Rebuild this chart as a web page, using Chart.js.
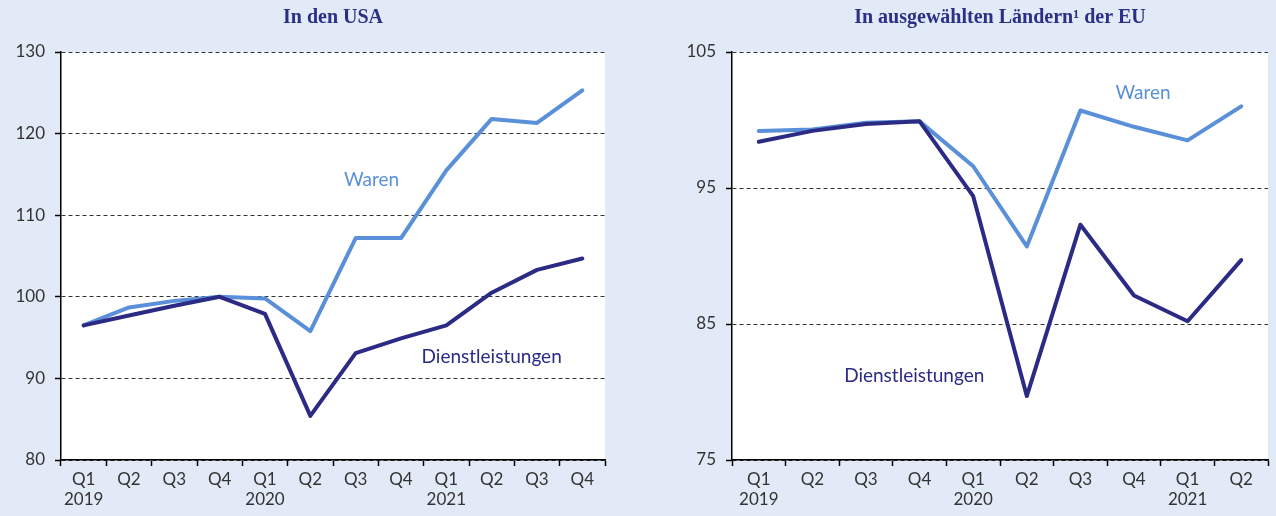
<!DOCTYPE html>
<html>
<head>
<meta charset="utf-8">
<script src="https://cdn.jsdelivr.net/npm/chart.js@4"></script>
<style>
  html, body { margin: 0; padding: 0; }
  body { width: 1276px; height: 516px; background: #e3eaf7; position: relative; overflow: hidden; }
  .box { position: absolute; top: 0; height: 516px; }
</style>
</head>
<body>
<div class="box" style="left:0;width:630px"><canvas id="chartUSA"></canvas></div>
<div class="box" style="left:640px;width:636px"><canvas id="chartEU"></canvas></div>
<script>
// Daten USA
var usa_labels = [["Q1", "2019"], "Q2", "Q3", "Q4", ["Q1", "2020"], "Q2", "Q3", "Q4", ["Q1", "2021"], "Q2", "Q3", "Q4"];
var usa_waren = [96.5, 98.7, 99.5, 100.0, 99.8, 95.8, 107.2, 107.2, 115.5, 121.8, 121.3, 125.3];
var usa_dienst = [96.5, 97.7, 98.9, 100.0, 97.9, 85.4, 93.1, 94.9, 96.5, 100.5, 103.3, 104.7];

// Daten EU
var eu_labels = [["Q1", "2019"], "Q2", "Q3", "Q4", ["Q1", "2020"], "Q2", "Q3", "Q4", ["Q1", "2021"], "Q2"];
var eu_waren = [99.2, 99.3, 99.8, 99.9, 96.6, 90.7, 100.7, 99.5, 98.5, 101.0];
var eu_dienst = [98.4, 99.2, 99.7, 99.9, 94.4, 79.7, 92.3, 87.1, 85.2, 89.7];

var farbe_waren = "#5a8fd9";
var farbe_dienst = "#2b2b86";
var schrift = "Lato, 'Open Sans', sans-serif";

// weisser hintergrund fuer die zeichenflaeche
var weissPlugin = {
  id: "weiss",
  beforeDraw: function (chart) {
    var a = chart.chartArea;
    chart.ctx.save();
    chart.ctx.fillStyle = "#ffffff";
    chart.ctx.fillRect(a.left, a.top, a.right - a.left, a.bottom - a.top);
    chart.ctx.restore();
  },
};

// titel und beschriftungen direkt auf das canvas zeichnen
function textPlugin(titel, beschriftungen) {
  return {
    id: "texte",
    afterDatasetsDraw: function (chart) {
      var c = chart.ctx;
      var area = chart.chartArea;
      c.save();
      c.textAlign = "center";
      c.textBaseline = "middle";
      c.fillStyle = "#2b3087";
      c.font = "bold 20px 'Liberation Serif', 'DejaVu Serif', serif";
      c.fillText(titel, (area.left + area.right) / 2, 18);
      c.font = "19px " + schrift;
      beschriftungen.forEach(function (b) {
        c.fillStyle = b.farbe;
        c.fillText(b.text, chart.scales.x.getPixelForValue(b.x), chart.scales.y.getPixelForValue(b.y));
      });
      c.restore();
    },
  };
}

function machChart(id, labels, waren, dienst, min, max, yBreite, rechts, titel, beschriftungen) {
  return new Chart(document.getElementById(id), {
    type: "line",
    data: {
      labels: labels,
      datasets: [
        {
          label: "Dienstleistungen",
          data: dienst,
          borderColor: farbe_dienst,
          borderWidth: 4,
          pointRadius: 0,
          borderCapStyle: "round",
          borderJoinStyle: "round",
          tension: 0,
        },
        {
          label: "Waren",
          data: waren,
          borderColor: farbe_waren,
          borderWidth: 4,
          pointRadius: 0,
          borderCapStyle: "round",
          borderJoinStyle: "round",
          tension: 0,
        },
      ],
    },
    options: {
      responsive: true,
      maintainAspectRatio: false,
      animation: false,
      layout: { padding: { top: 52, right: rechts, bottom: 0, left: 0 } },
      plugins: {
        legend: { display: false },
        tooltip: { enabled: false },
        title: { display: false },
      },
      scales: {
        x: {
          type: "category",
          offset: true,
          border: { display: true, color: "#000", width: 1.5 },
          grid: {
            offset: true,
            drawOnChartArea: false,
            drawTicks: true,
            tickLength: 6,
            tickColor: "#000",
            tickWidth: 1.5,
          },
          ticks: {
            color: "#333",
            font: { family: schrift, size: 17 },
            padding: 3,
            maxRotation: 0,
            autoSkip: false,
          },
          afterFit: function (scale) {
            scale.height = 56;
          },
        },
        y: {
          min: min,
          max: max,
          border: { display: true, color: "#000", width: 1.5, dash: [4, 3] },
          grid: {
            color: "#333",
            lineWidth: 1,
            tickLength: 6,
            tickColor: "#000",
            tickWidth: 1.5,
            tickBorderDash: [],
          },
          ticks: {
            stepSize: 10,
            color: "#333",
            font: { family: schrift, size: 17 },
            padding: 10,
          },
          afterFit: function (scale) {
            scale.width = yBreite;
          },
        },
      },
    },
    plugins: [weissPlugin, textPlugin(titel, beschriftungen)],
  });
}

machChart("chartUSA", usa_labels, usa_waren, usa_dienst, 80, 130, 61, 25, "In den USA", [
  { text: "Waren", x: 6.35, y: 114.3, farbe: farbe_waren },
  { text: "Dienstleistungen", x: 9.0, y: 92.6, farbe: farbe_dienst },
]);

machChart("chartEU", eu_labels, eu_waren, eu_dienst, 75, 105, 92, 8, "In ausgewählten Ländern¹ der EU", [
  { text: "Waren", x: 7.17, y: 102.0, farbe: farbe_waren },
  { text: "Dienstleistungen", x: 2.9, y: 81.2, farbe: farbe_dienst },
]);
</script>
</body>
</html>
